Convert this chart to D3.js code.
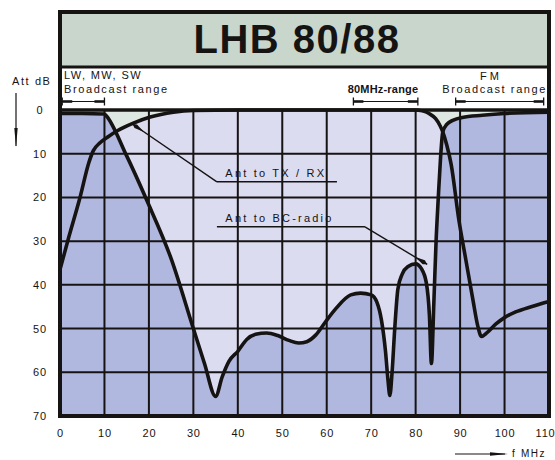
<!DOCTYPE html>
<html><head><meta charset="utf-8">
<script src="https://cdn.jsdelivr.net/npm/d3@7"></script>
<style>
body{margin:0;background:#fff}
svg{display:block}
text{font-family:"Liberation Sans",Arial,sans-serif;fill:#161313}
</style>
</head><body>
<svg id="c" width="555" height="460"></svg>
<script>
// ---- data ----
const title = "LHB 80/88";
const xTicks = [0,10,20,30,40,50,60,70,80,90,100,110];
const yTicks = [0,10,20,30,40,50,60,70];

// Ant to BC-radio
const bcFreq = [0,5,10,10.4,15,19.5,25,30,32.5,35,36.5,38,40,42,44,46.5,49,51.5,53.7,55.5,57.5,59.7,62,65.4,67.6,70,71.3,72.3,73.2,73.8,74.2,74.7,75.3,76,77,78.3,80,81.3,82.4,83.1,83.55,84.1,84.6,85.1,85.6,86.1,87,88.5,90.5,95,100,110];
const bcAtt  = [0.8,0.8,0.9,1.3,10.5,20.6,34,50,58,65.5,61,57.5,55.2,52.5,51.3,51,51.6,52.7,53.3,53,51.5,48.5,45.5,42.3,41.9,42.3,44,48,55,62,65.3,60,50,41,37.5,35.8,35.2,36.3,39.5,47,58,44,30,20,11,5,3.3,2.3,1.7,1.2,0.8,0.5];

// Ant to TX/RX
const txFreq = [0,2,4.5,6.5,7.5,9,11,13,16.5,20.3,25.5,30,40,60,80,81.5,83,84.5,85.5,86.1,87,88,89.7,91.3,92.9,94,94.8,96,98,100,102.5,106,110];
const txAtt  = [36.5,29,20,12,9.3,7.5,6,4.7,3,1.6,0.5,0.1,0,0,0,0.2,0.8,2,3.6,5,8,12.5,25,34.3,43.5,49.5,51.8,51,49,47.5,46.2,45,43.8];

const bandLW  = [0.5,10];
const band80  = [66,80.5];
const bandFM  = [89,108.8];

// ---- layout ----
const svg = d3.select("#c");
const x = d3.scaleLinear([0,110],[60,549]);
const y = d3.scaleLinear([0,70],[110,416]);
const frameTop = 12, sepY = 67;
const ink = "#161313";

// title band
svg.append("rect").attr("x",x(0)).attr("y",frameTop).attr("width",x(110)-x(0)).attr("height",sepY-frameTop).attr("fill","#c9d6cb");
svg.append("rect").attr("x",x(0)).attr("y",sepY).attr("width",x(110)-x(0)).attr("height",y(0)-sepY).attr("fill","#fff");
svg.append("text").attr("x",297).attr("y",53).attr("text-anchor","middle")
  .style("font-size","40px").style("font-weight","bold").style("letter-spacing","1.5px").text(title);

// plot background (above both curves)
svg.append("rect").attr("x",x(0)).attr("y",y(0)).attr("width",x(110)-x(0)).attr("height",y(70)-y(0)).attr("fill","#dfe7e2");

const bc = bcFreq.map((f,i)=>[f,bcAtt[i]]);
const tx = txFreq.map((f,i)=>[f,txAtt[i]]);
const area = d3.area().x(d=>x(d[0])).y0(y(70)).y1(d=>y(d[1])).curve(d3.curveMonotoneX);
const line = d3.line().x(d=>x(d[0])).y(d=>y(d[1])).curve(d3.curveMonotoneX);

svg.append("path").attr("d",area(tx)).attr("fill","#dcdcf1");
svg.append("path").attr("d",area(bc)).attr("fill","#b1b8df");

// grid
const g = svg.append("g").attr("stroke",ink).attr("stroke-width",2);
g.selectAll("line.v").data(xTicks).join("line").attr("class","v")
  .attr("x1",d=>x(d)).attr("x2",d=>x(d)).attr("y1",y(0)).attr("y2",y(70));
g.selectAll("line.h").data(yTicks).join("line").attr("class","h")
  .attr("x1",x(0)).attr("x2",x(110)).attr("y1",d=>y(d)).attr("y2",d=>y(d));

// curves
svg.append("path").attr("d",line(tx)).attr("fill","none").attr("stroke",ink).attr("stroke-width",3.6).attr("stroke-linejoin","round");
svg.append("path").attr("d",line(bc)).attr("fill","none").attr("stroke",ink).attr("stroke-width",3.6).attr("stroke-linejoin","round");

// frame
svg.append("rect").attr("x",x(0)).attr("y",frameTop).attr("width",x(110)-x(0)).attr("height",y(70)-frameTop)
  .attr("fill","none").attr("stroke",ink).attr("stroke-width",4);
svg.append("line").attr("x1",x(0)).attr("x2",x(110)).attr("y1",sepY).attr("y2",sepY).attr("stroke",ink).attr("stroke-width",3);
svg.append("line").attr("x1",x(0)).attr("x2",x(110)).attr("y1",y(0)).attr("y2",y(0)).attr("stroke",ink).attr("stroke-width",3.5);

// axes labels
const yAxis = d3.axisLeft(y).tickValues(yTicks).tickSize(0).tickPadding(0);
const ya = svg.append("g").attr("transform","translate(46,0)").call(yAxis);
ya.select(".domain").remove();
ya.selectAll("text").attr("text-anchor","middle").attr("dx","-6").style("font-size","11px").style("letter-spacing","1px").attr("fill",ink);
const xAxis = d3.axisBottom(x).tickValues(xTicks).tickSize(0).tickPadding(0);
const xa = svg.append("g").attr("transform","translate(0,429)").call(xAxis);
xa.select(".domain").remove();
xa.selectAll("text").style("font-size","11px").style("letter-spacing","0.8px").attr("fill",ink);
xa.selectAll("text").filter(d=>d===110).attr("text-anchor","end").attr("dx","6");

svg.append("text").attr("x",12).attr("y",85).style("font-size","11px").style("letter-spacing","1.6px").text("Att dB");
// vertical arrow
svg.append("line").attr("x1",16).attr("x2",16).attr("y1",93).attr("y2",146).attr("stroke",ink).attr("stroke-width",1.2);
svg.append("path").attr("d","M14.3,128 L17.7,128 L16,147 Z").attr("fill",ink);

// f MHz arrow
svg.append("line").attr("x1",455).attr("x2",505).attr("y1",454).attr("y2",454).attr("stroke",ink).attr("stroke-width",1.2);
svg.append("path").attr("d","M490,452.3 L490,455.7 L508,454 Z").attr("fill",ink);
svg.append("text").attr("x",512).attr("y",457).style("font-size","10px").text("f");
svg.append("text").attr("x",521).attr("y",457).style("font-size","10px").style("letter-spacing","1.5px").text("MHz");

// band labels
const small = (t,xx,yy,ls,anchor,bold)=>svg.append("text").attr("x",xx).attr("y",yy)
  .attr("text-anchor",anchor||"start").style("font-size","11px").style("letter-spacing",ls+"px")
  .style("font-weight",bold?"bold":"normal").text(t);
small("LW, MW, SW",64,79,1.4);
small("Broadcast range",64,93,1.6);
small("80MHz-range",383,93,0.2,"middle",true);
small("FM",491,80,3,"middle");
small("Broadcast range",547,93,1.6,"end");

function bracket(r){
  const x1=x(r[0]), x2=x(r[1]), yy=101.5;
  svg.append("line").attr("x1",x1).attr("x2",x2).attr("y1",yy).attr("y2",yy).attr("stroke",ink).attr("stroke-width",1.2);
  svg.append("line").attr("x1",x1).attr("x2",x1+10).attr("y1",yy).attr("y2",yy).attr("stroke",ink).attr("stroke-width",2.6);
  svg.append("line").attr("x1",x2-10).attr("x2",x2).attr("y1",yy).attr("y2",yy).attr("stroke",ink).attr("stroke-width",2.6);
  [x1,x2].forEach(v=>svg.append("line").attr("x1",v).attr("x2",v).attr("y1",yy-4).attr("y2",yy+4).attr("stroke",ink).attr("stroke-width",1.3));
}
[bandLW,band80,bandFM].forEach(bracket);

// annotations
function annot(label,tx0,ty,ux1,ux2,ptF,ptA){
  svg.append("text").attr("x",x(tx0)).attr("y",y(ty)).style("font-size","11px").style("letter-spacing","2.2px").text(label);
  const uy = y(ty)+4.5;
  svg.append("line").attr("x1",x(ux1)).attr("x2",x(ux2)).attr("y1",uy).attr("y2",uy).attr("stroke",ink).attr("stroke-width",1.5);
  const sx = x(ptF[0]), sy = uy, ex = x(ptF[1]), ey = y(ptA);
  svg.append("line").attr("x1",sx).attr("y1",sy).attr("x2",ex).attr("y2",ey).attr("stroke",ink).attr("stroke-width",1.4);
  const ang = Math.atan2(ey-sy, ex-sx), L=14, W=2.2;
  const bx = ex - Math.cos(ang)*L, by = ey - Math.sin(ang)*L;
  const nx = -Math.sin(ang)*W, ny = Math.cos(ang)*W;
  const hx = ex - Math.cos(ang)*4, hy = ey - Math.sin(ang)*4;
  svg.append("path").attr("d",`M${bx},${by} L${hx+nx},${hy+ny} L${ex},${ey} L${hx-nx},${hy-ny} Z`).attr("fill",ink);
}
annot("Ant to TX / RX",37.2,15.4,35.3,62.3,[35.3,16.3],3.2);
annot("Ant to BC-radio",37.2,25.7,35.3,68.6,[68.6,82.6],35.3);
</script>
</body></html>
